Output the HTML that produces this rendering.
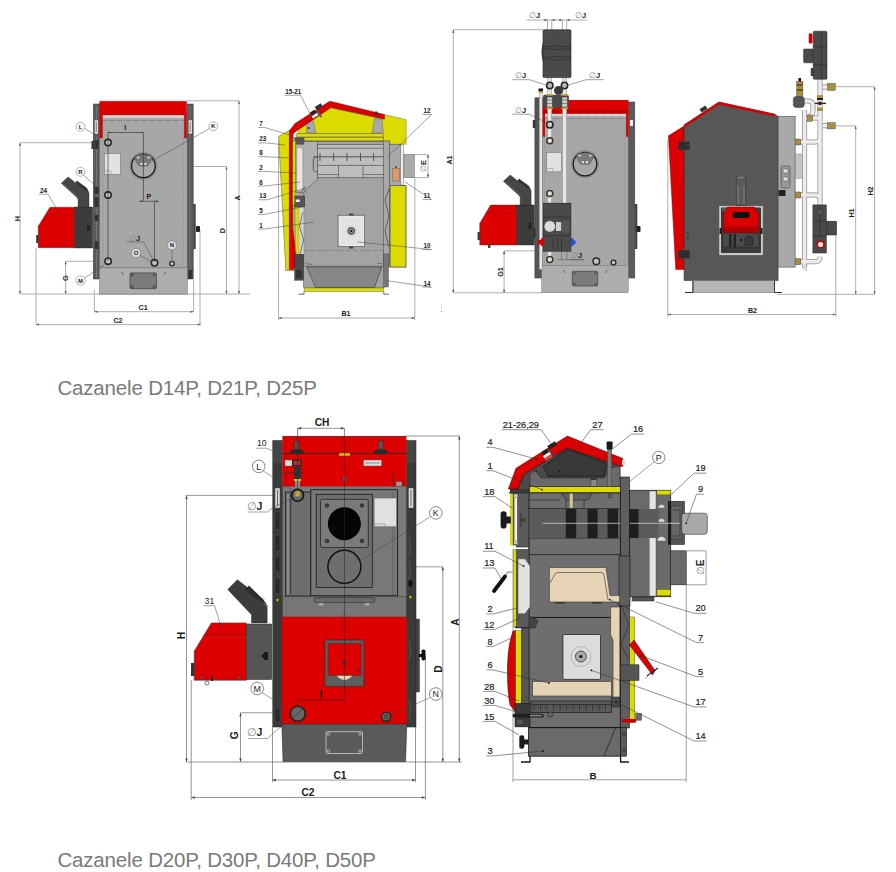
<!DOCTYPE html>
<html><head><meta charset="utf-8">
<style>
html,body{margin:0;padding:0;background:#fff;width:896px;height:872px;overflow:hidden}
svg{position:absolute;left:0;top:0;display:block}
text{font-family:"Liberation Sans",sans-serif}
.cap{font-size:20.5px;fill:#7a7a7a;letter-spacing:-0.17px}
.lb{font-size:8px;fill:#333;font-weight:bold}
.lb2{font-size:11px;fill:#333}
.dim{stroke:#999;stroke-width:0.8;fill:none}
.ld{stroke:#2a2a2a;stroke-width:0.6;fill:none}
.ol{stroke:#222;stroke-width:0.8}
.red{fill:#dc0000}
.dk{fill:#3c3c3c}
.mg{fill:#6e6e6e}
.lg{fill:#b4b4b4}
.yl{fill:#dcdc02}
.tan{fill:#e6d2b4}
</style></head>
<body>
<svg width="896" height="872" viewBox="0 0 896 872">
<!-- ================= DRAWING 1 (top-left front) ================= -->
<g id="d1">
  <!-- dimension lines -->
  <path class="dim" d="M20 142.7H93 M20 142.7V294 M20 294H250 M65.6 261.3H95 M65.6 261.3V294 M36 248V325 M200 230V325 M94.4 290V312 M193.6 280V312 M94.4 311.7H193.6 M36 324.6H200.8 M187 100.8H239 M239 100.8V294 M143 166.5H226.5 M226.5 166.5V294"/>
  <path fill="#555" d="M20 142.7l-1 3h2z M20 294l-1 -3h2z M65.6 261.3l-1 3h2z M65.6 294l-1 -3h2z M94.4 311.7l3 -1v2z M193.6 311.7l-3 -1v2z M36 324.6l3 -1v2z M200.8 324.6l-3 -1v2z M239 100.8l-1 3h2z M239 294l-1 -3h2z M226.5 166.5l-1 3h2z M226.5 294l-1 -3h2z"/>
  <!-- side dark panels -->
  <rect fill="#5a5a5a" stroke="#333" stroke-width="0.5" x="93.3" y="104" width="6.5" height="175"/>
  <rect fill="#5a5a5a" stroke="#333" stroke-width="0.5" x="187.2" y="104" width="6" height="175"/>
  <path fill="none" stroke="#888" stroke-width="0.6" d="M96.5 106V278 M190 106V278"/>
  <rect fill="#333" x="94.5" y="140" width="4" height="9"/>
  <rect fill="#333" x="91.5" y="141" width="2.5" height="8"/>
  <rect fill="#333" x="94.5" y="187" width="4" height="7"/>
  <rect fill="#333" x="94.5" y="197" width="4" height="10"/>
  <rect fill="#333" x="94.5" y="215" width="4" height="6"/>
  <rect fill="#333" x="94.5" y="241" width="4" height="8"/>
  <rect fill="#ddd" stroke="#333" stroke-width="0.4" x="94.3" y="120" width="4" height="14"/><path fill="none" stroke="#555" stroke-width="0.7" d="M96.3 122V132"/>
  <rect fill="#ddd" stroke="#333" stroke-width="0.4" x="188.2" y="120" width="4" height="14"/><path fill="none" stroke="#555" stroke-width="0.7" d="M190.2 122V132"/>
  <rect fill="#444" x="193.2" y="204" width="2.5" height="45"/>
  <rect fill="#222" x="196" y="226" width="4" height="6" rx="1"/>
  <rect fill="#333" x="188.3" y="270" width="4" height="9"/>
  <!-- body -->
  <rect fill="#a7a7a7" stroke="#555" stroke-width="0.4" x="99.6" y="114" width="87.6" height="154"/>
  <rect fill="#d2d2d2" x="102.5" y="115" width="81.8" height="3"/>
  <path fill="none" stroke="#777" stroke-width="0.8" stroke-dasharray="4 1.5 1 1.5" d="M102.5 120.5H184.3"/>
  <path fill="none" stroke="#888" stroke-width="0.5" stroke-dasharray="2 1" d="M103 138V267 M183.5 138V267"/>
  <!-- base -->
  <rect fill="#adadad" stroke="#666" stroke-width="0.4" x="99.4" y="267.4" width="88.1" height="26.8"/>
  <path fill="none" stroke="#777" stroke-width="0.5" stroke-dasharray="1.5 1" d="M99.4 268H187.5 M99.4 293.5H187.5"/>
  <rect fill="#7c7c7c" stroke="#333" stroke-width="0.6" x="130" y="272.9" width="26.5" height="15.8" rx="1"/>
  <g fill="#888" stroke="#2a2a2a" stroke-width="0.7"><circle cx="132.2" cy="274.8" r="1.2"/><circle cx="154.3" cy="274.8" r="1.2"/><circle cx="132.2" cy="286.8" r="1.2"/><circle cx="154.3" cy="286.8" r="1.2"/></g>
  <path fill="none" stroke="#444" stroke-width="0.7" d="M121.5 272L123.5 275 M163.5 275L165.5 272"/>
  <!-- red top -->
  <path class="red" stroke="#900" stroke-width="0.3" d="M99.6 101.2H186.7V138H184.3V114.9H102.5V138H99.6Z"/>
  <path fill="none" stroke="#a00" stroke-width="0.6" stroke-dasharray="2 3" d="M101 113H185"/>
  <!-- K -->
  <circle cx="143.4" cy="165.9" r="13.3" fill="none" stroke="#8a8a8a" stroke-width="1.2"/>
  <circle cx="143.4" cy="165.9" r="11.8" fill="none" stroke="#1a1a1a" stroke-width="1.3"/>
  <path fill="#7a7a7a" stroke="#444" stroke-width="0.4" d="M134.5 156.5Q143.4 152 152.3 156.5Q151 163 147.5 166H139.3Q135.8 163 134.5 156.5Z"/>
  <g fill="#eee"><ellipse cx="138.2" cy="157.5" rx="1.4" ry="0.8"/><ellipse cx="148.6" cy="157.5" rx="1.4" ry="0.8"/><ellipse cx="141.3" cy="164" rx="1.2" ry="1.1"/><ellipse cx="145.5" cy="164" rx="1.2" ry="1.1"/></g>
  <path fill="none" stroke="#444" stroke-width="0.4" d="M140 156Q143.4 161 146.8 156"/>
  <rect fill="#e2e2e2" stroke="#666" stroke-width="0.5" x="104.4" y="153.4" width="16" height="21"/>
  <path fill="none" stroke="#777" stroke-width="0.4" d="M104.4 171H111V174.4"/>
  <circle cx="108" cy="142.6" r="3.2" fill="#c4c4c4" stroke="#2a2a2a" stroke-width="1.6"/>
  <circle cx="108" cy="195.1" r="3.2" fill="#c4c4c4" stroke="#2a2a2a" stroke-width="1.6"/>
  <circle cx="108.1" cy="261.2" r="3.2" fill="#c4c4c4" stroke="#2a2a2a" stroke-width="1.6"/>
  <circle cx="154.5" cy="262.8" r="3.2" fill="#c4c4c4" stroke="#2a2a2a" stroke-width="1.6"/>
  <circle cx="172" cy="263.6" r="2.3" fill="#c4c4c4" stroke="#2a2a2a" stroke-width="1.3"/>
  <path class="ld" d="M108 132.5H143.4 M108 132.5V261 M143.4 132.5V201.3 M139.3 201.3H158.6 M154.5 201.3V262"/>
  <path fill="#333" d="M108 132.5l2.5 -0.8v1.6z M143.4 132.5l-2.5 -0.8v1.6z M139.3 201.3l2.5 -0.8v1.6z M158.6 201.3l-2.5 -0.8v1.6z"/>
  <!-- burner -->
  <path class="red" stroke="#333" stroke-width="0.4" d="M49.9 207.3H74.7V247.7H38.2V226.3Z"/>
  <path fill="none" stroke="#800" stroke-width="0.5" stroke-dasharray="2 1" d="M46 215.5H74.7"/>
  <rect fill="#3c3c3c" stroke="#222" stroke-width="0.4" x="74.7" y="207" width="18" height="41"/>
  <rect fill="#222" x="87" y="225" width="3" height="6"/>
  <rect fill="#333" x="36.2" y="235" width="2.2" height="8"/>
  <path fill="#464646" stroke="#222" stroke-width="0.4" d="M61.3 183.3L68.1 176.9L75.7 182.9L76.9 180.9L86.6 188.1L89 192.9V207.4H78.1V200Q78 198 76 196.5Z"/>
  <path fill="none" stroke="#777" stroke-width="0.5" d="M63 183.5L76 195Q78.5 197.5 78.5 200"/>
  <path fill="#333" d="M76.9 180.9L86.6 188.1L89 192.9Q87 190.5 83 189L75.7 182.9Z"/>
  <!-- labels -->
  <text class="cap" x="57.4" y="395.1">Cazanele D14P, D21P, D25P</text>
</g>

<!-- ================= DRAWING 2 (top cross-section) ================= -->
<g id="d2">
  <path class="dim" d="M278.6 140V320 M414.8 178V320 M278.6 318H414.8 M414 154.6H428 M414 177.6H428 M428 154.6V177.6"/>
  <path fill="#444" d="M278.6 318l3 -1v2z M414.8 318l-3 -1v2z M428 154.6l-1 3h2z M428 177.6l-1 -3h2z"/>
  <!-- yellow left insulation -->
  <path class="yl" stroke="#555" stroke-width="0.5" d="M278.6 136.3L293.5 128.3L294 270.5H285.8Z"/>
  <!-- body gray backdrop -->
  <rect fill="#a9a9a9" x="294" y="137" width="96" height="130"/>
  <!-- yellow under roof -->
  <path class="yl" stroke="#555" stroke-width="0.4" d="M298.7 129.4L329.6 107.6L384.4 119.1V114.5L406.2 119.7V144.3H389.6V141H298Z"/>
  <path fill="#a8a8a8" stroke="#555" stroke-width="0.4" d="M306.6 122L313 119L316 133H306.6Z M374.7 118L382 119.5L383.3 133H372Z"/>
  <circle cx="308.6" cy="128" r="0.9" fill="#222"/>
  <rect class="yl" stroke="#555" stroke-width="0.6" x="296.1" y="133.5" width="87.2" height="3.7" rx="1.5"/>
  <rect class="yl" stroke="#555" stroke-width="0.6" x="304.1" y="137.2" width="79.2" height="3.7"/>
  <!-- red left wall + roof -->
  <path class="red" stroke="#400" stroke-width="0.4" d="M289.3 269.4V131L294.7 123.7L329.6 101.3L333.1 101.9L384.4 114.5V119.1L331 107.6L298.7 129.4L292.6 134V228L295.3 250V266L293.5 269.4Z"/>
  <g transform="rotate(-33 318 112)"><rect fill="#222" x="311" y="108" width="5" height="4"/><rect fill="#eee" stroke="#333" stroke-width="0.3" x="310" y="112" width="7" height="3"/><rect fill="#333" x="318" y="106" width="7" height="4"/><rect fill="#555" x="317" y="110" width="2" height="8"/></g>
  <rect fill="#333" x="375" y="111.5" width="2.5" height="3"/>
  <!-- yellow right insulation -->
  <rect class="yl" stroke="#444" stroke-width="0.8" x="390" y="185.6" width="16" height="81.5"/>
  <!-- body -->
  <rect fill="#a3a3a3" stroke="#555" stroke-width="0.6" x="303.8" y="141.5" width="85.6" height="124.8"/>
  <path fill="#b0b0b0" stroke="#555" stroke-width="0.6" d="M295.5 141.5H317.6V179L303.5 192.4H295.5Z"/>
  <path fill="#e6e6e6" stroke="#666" stroke-width="0.4" d="M296.8 147.6H301L302.9 150V189L300 191.2H296.8Z"/>
  <rect fill="#555" x="294.9" y="137.2" width="9.2" height="7.4"/>
  <path fill="none" stroke="#555" stroke-width="0.6" d="M300 194L306 186 M303 189L307 193"/>
  <!-- flue tube box -->
  <rect fill="#bdbdbd" stroke="#555" stroke-width="0.7" x="317.6" y="144.6" width="71.8" height="33.1"/>
  <path fill="none" stroke="#555" stroke-width="0.7" d="M317.6 148.2H389.4 M317.6 165.4H389.4 M338.5 165.4V177.7 M363 165.4V177.7 M317.6 174.5H338.5 M363 174.5H389.4"/>
  <path fill="none" stroke="#555" stroke-width="1" d="M313.3 156.8H388.2 M320 153V161 M333.6 153V161 M347 153V161 M360.5 153V161 M373.5 153V161 M386.5 153V161 M317.6 156.8Q313.3 156.8 313.3 160V169Q313.3 172 317.6 172"/>
  <rect fill="#a8a8a8" stroke="#555" stroke-width="0.6" x="383.3" y="141" width="6.1" height="125"/>
  <path fill="none" stroke="#333" stroke-width="0.6" d="M389 189L385 200L389 216L385 231L389 247"/>
  <rect fill="#a8a8a8" stroke="#555" stroke-width="0.6" x="389.4" y="144.3" width="11.1" height="41.3"/>
  <rect fill="#eee" stroke="#555" stroke-width="0.4" x="400.5" y="145" width="3" height="40"/>
  <rect fill="#aaa" stroke="#555" stroke-width="0.5" x="403.9" y="154.6" width="10.3" height="23"/>
  <rect fill="#d99a6c" stroke="#555" stroke-width="0.4" x="392.4" y="168.4" width="6.9" height="12.6"/>
  <circle cx="395.8" cy="167" r="1" fill="#444"/>
  <!-- inner yellow strip -->
  <rect class="yl" stroke="#444" stroke-width="0.3" x="292.8" y="141" width="2.8" height="64"/>
  <path class="yl" stroke="#444" stroke-width="0.3" d="M295 207H299.1V255.7H297L295.5 250Z"/>
  <rect fill="#d6d6d6" x="299.1" y="207" width="4.6" height="47"/>
  <rect fill="#555" stroke="#222" stroke-width="0.4" x="294.8" y="196" width="10" height="11"/>
  <rect fill="#eee" x="295.8" y="199.5" width="4" height="2.5"/>
  <path fill="none" stroke="#333" stroke-width="0.6" d="M303 212L299.5 226L303.5 240L300 254"/>
  <!-- ash pan -->
  <rect fill="#a2a2a2" stroke="#555" stroke-width="0.5" x="303.4" y="266.1" width="81.1" height="21.4"/>
  <path fill="#878787" stroke="#333" stroke-width="0.6" d="M306.8 266.9H381.8L374.4 287.5H315.5Z"/>
  <path fill="none" stroke="#555" stroke-width="0.6" d="M305 263.5L312 264.5 M377 263.5L382 263.5"/>
  <rect class="yl" stroke="#555" stroke-width="0.4" x="304.1" y="288" width="79.7" height="3.5"/>
  <path fill="none" stroke="#444" stroke-width="0.8" d="M298.7 294.2H304V291.5 M383.8 291.5V294.2H389"/>
  <rect fill="#4a4a4a" stroke="#222" stroke-width="0.4" x="294.6" y="254.3" width="8.8" height="25.9"/>
  <rect fill="#333" x="296" y="270" width="6" height="8"/>
  <rect fill="#777" stroke="#333" stroke-width="0.4" x="383.8" y="254" width="4.6" height="33"/>
  <!-- burner plate -->
  <rect fill="#e3e3e3" stroke="#444" stroke-width="0.6" x="338.1" y="215.2" width="26.5" height="31.5"/>
  <rect fill="none" stroke="#fff" stroke-width="0.7" stroke-dasharray="2 2" x="339.5" y="216.6" width="23.7" height="28.7"/>
  <rect fill="#444" x="349" y="213.5" width="4.5" height="2"/>
  <rect fill="#444" x="349" y="246.5" width="4.5" height="2"/>
  <circle cx="351.3" cy="230.9" r="5.5" fill="none" stroke="#aaa" stroke-width="0.5" stroke-dasharray="1 1"/>
  <circle cx="351.3" cy="230.9" r="3.5" fill="#888" stroke="#333" stroke-width="0.8"/>
  <circle cx="351.3" cy="230.9" r="1" fill="#111"/>
  <path fill="none" stroke="#666" stroke-width="0.6" stroke-dasharray="3 1.5 1 1.5" d="M304 250.5H385"/>
</g>
<!-- ================= DRAWING 3 (top front w/ hydraulics) ================= -->
<g id="d3">
  <path class="dim" d="M453.3 29.7H543 M453.3 29.7V292.8 M453.3 292.8H542 M504.1 250.9H535 M504.1 250.9V292.8 M526.5 20H586.7 M547.5 20V29.7 M551.8 20V29.7 M562.4 20V29.7 M566.7 20V29.7"/>
  <path fill="#444" d="M453.3 29.7l-1 3h2z M453.3 292.8l-1 -3h2z M504.1 250.9l-1 3h2z M504.1 292.8l-1 -3h2z M547.5 20l-3 -1v2z M566.7 20l3 -1v2z M551.8 20l3 -1v2z M562.4 20l-3 -1v2z"/>
  <!-- side columns -->
  <rect fill="#555" stroke="#333" stroke-width="0.5" x="534.9" y="97.8" width="7.7" height="180.2"/>
  <rect fill="#5a5a5a" stroke="#333" stroke-width="0.5" x="628.4" y="102" width="6.4" height="176"/>
  <rect fill="#333" x="532.8" y="120" width="2.4" height="8"/>
  <rect fill="#333" x="532.8" y="228" width="2.4" height="10"/>
  <rect fill="#444" x="634.8" y="204" width="2.5" height="45"/>
  <rect fill="#222" x="636.5" y="226" width="4" height="6" rx="1"/>
  <rect fill="#eee" x="630" y="120" width="3" height="6"/>
  <!-- body -->
  <rect fill="#a7a7a7" stroke="#555" stroke-width="0.4" x="542.1" y="112.4" width="85.3" height="153.1"/>
  <rect fill="#d2d2d2" x="543" y="113.3" width="84" height="3"/>
  <path fill="none" stroke="#777" stroke-width="0.8" stroke-dasharray="4 1.5 1 1.5" d="M545 118.4H626"/>
  <path fill="none" stroke="#888" stroke-width="0.5" stroke-dasharray="2 1" d="M544.5 125V265 M625 125V265 M543 265.5H627"/>
  <rect fill="#adadad" stroke="#666" stroke-width="0.4" x="541.7" y="265.5" width="86.6" height="27.3"/>
  <rect fill="#7c7c7c" stroke="#333" stroke-width="0.6" x="572.3" y="271.3" width="25.4" height="14.7" rx="1"/>
  <g fill="none" stroke="#333" stroke-width="0.5"><circle cx="574.5" cy="273.3" r="1"/><circle cx="595.5" cy="273.3" r="1"/><circle cx="574.5" cy="284" r="1"/><circle cx="595.5" cy="284" r="1"/></g>
  <path fill="none" stroke="#444" stroke-width="0.7" d="M563.5 270L565.5 273 M605 273L607 270"/>
  <!-- red top -->
  <path class="red" d="M542.6 99.9H628.5V136.8H626.1V113.6H545V136.8H542.6Z"/>
  <rect fill="#c00000" x="542.6" y="110" width="85.9" height="3.6"/>
  <path fill="none" stroke="#a00" stroke-width="0.6" stroke-dasharray="2 3" d="M544 111.5H627"/>
  <!-- K -->
  <circle cx="585" cy="164.1" r="13.3" fill="none" stroke="#8a8a8a" stroke-width="1.2"/>
  <circle cx="585" cy="164.1" r="11.8" fill="none" stroke="#1a1a1a" stroke-width="1.3"/>
  <path fill="#7a7a7a" stroke="#444" stroke-width="0.4" d="M576.1 154.7Q585 150.2 593.9 154.7Q592.6 161.2 589.1 164.2H580.9Q577.4 161.2 576.1 154.7Z"/>
  <g fill="#eee"><ellipse cx="579.8" cy="155.7" rx="1.4" ry="0.8"/><ellipse cx="590.2" cy="155.7" rx="1.4" ry="0.8"/><ellipse cx="582.9" cy="162.2" rx="1.2" ry="1.1"/><ellipse cx="587.1" cy="162.2" rx="1.2" ry="1.1"/></g>
  <rect fill="#e2e2e2" stroke="#666" stroke-width="0.5" x="546.6" y="152.4" width="15" height="19.5"/>
  <path fill="none" stroke="#777" stroke-width="0.4" d="M546.6 168.5H553V171.9"/>
  <circle cx="596.3" cy="261.3" r="3.3" fill="#c4c4c4" stroke="#2a2a2a" stroke-width="1.5"/>
  <circle cx="613.5" cy="262.5" r="2.4" fill="#c4c4c4" stroke="#2a2a2a" stroke-width="1.3"/>
  <!-- pipes -->
  <rect fill="#e6e6e6" stroke="#777" stroke-width="0.4" x="539.2" y="90.9" width="3" height="178.5"/>
  <rect fill="#111" x="538.5" y="88.5" width="4.5" height="3"/>
  <rect fill="#c9a227" x="538.5" y="91.5" width="4.5" height="1.5"/>
  <rect fill="#e6e6e6" stroke="#777" stroke-width="0.4" x="547.5" y="77.6" width="4.3" height="63"/>
  <rect fill="#e6e6e6" stroke="#777" stroke-width="0.4" x="547.5" y="193" width="4.3" height="10"/>
  <rect fill="#e6e6e6" stroke="#777" stroke-width="0.4" x="547.5" y="251" width="4.3" height="8"/>
  <rect fill="#e6e6e6" stroke="#777" stroke-width="0.4" x="562.4" y="77.6" width="4.3" height="125.6"/>
  <circle cx="549.8" cy="85.5" r="3.2" fill="#bbb" stroke="#222" stroke-width="1.5"/>
  <circle cx="564.5" cy="85.5" r="3.2" fill="#bbb" stroke="#222" stroke-width="1.5"/>
  <circle cx="558.5" cy="90.5" r="4.5" fill="#3a3a3a"/>
  <rect fill="#4a4a4a" x="543" y="94.8" width="25.9" height="12.9" rx="2"/>
  <rect fill="#ccc" stroke="#333" stroke-width="0.4" x="547" y="97" width="5.3" height="10"/>
  <rect fill="#ccc" stroke="#333" stroke-width="0.4" x="562" y="97" width="5.3" height="10"/>
  <path fill="none" stroke="#555" stroke-width="0.6" d="M547 100H552.3 M547 103.5H552.3 M562 100H567.3 M562 103.5H567.3"/>
  <path fill="none" stroke="#c9a227" stroke-width="1.4" d="M546.5 95H553 M561.5 95H568 M546.5 108.2H553 M561.5 108.2H568"/>
  <circle cx="549.8" cy="124.7" r="3.2" fill="#ccc" stroke="#222" stroke-width="1.5"/>
  <circle cx="549.8" cy="140.8" r="3" fill="#ddd" stroke="#3a3a20" stroke-width="1.5"/>
  <circle cx="549.8" cy="193.4" r="3" fill="#ddd" stroke="#3a3a20" stroke-width="1.5"/>
  <circle cx="549.8" cy="259.5" r="3" fill="#ddd" stroke="#3a3a20" stroke-width="1.5"/>
  <!-- top mixer box -->
  <path fill="#3e3e3e" d="M543 42Q540 52 543 62Z"/>
  <rect fill="#4a4a4a" stroke="#222" stroke-width="0.6" x="543" y="29.7" width="28" height="47.9" rx="1.2"/>
  <path fill="none" stroke="#2e2e2e" stroke-width="0.7" d="M543 47Q557 45 571 47 M543 59Q557 61 571 59 M543 48.5Q557 50.5 571 48.5 M543 57.5Q557 55.5 571 57.5"/>
  <path fill="none" stroke="#666" stroke-width="0.5" d="M548 30V36 M566 30V36"/>
  <!-- pump box -->
  <rect fill="#4a4a4a" stroke="#222" stroke-width="0.6" x="543.4" y="203.2" width="27.5" height="48"/>
  <path fill="none" stroke="#2a2a2a" stroke-width="0.7" d="M543.4 217.1H570.9 M543.4 235.7H570.9 M553 238V250 M557.5 238V250 M561.5 238V250"/>
  <circle cx="549.8" cy="226.4" r="5.8" fill="#dadada" stroke="#333" stroke-width="0.6"/>
  <rect fill="#d0d0d0" x="556" y="222" width="5.6" height="9"/>
  <rect fill="#555" stroke="#333" stroke-width="0.4" x="561.6" y="220" width="8.4" height="13"/>
  <path fill="#d00" d="M537.9 240H541V238.3H543.6V246H541V244.5H537.9Z"/>
  <path fill="#2255cc" d="M570.9 238.3H573.5V240.5H575.6V244H573.5V246H570.9Z"/>
  <path fill="none" stroke="#555" stroke-width="0.5" d="M561.5 251V259.7 M567 251V259.7 M557 259.7H583.8"/>
  <!-- burner -->
  <path class="red" stroke="#333" stroke-width="0.4" d="M490.5 205H516.8V245H479.7V223.6Z"/>
  <path fill="none" stroke="#800" stroke-width="0.5" stroke-dasharray="2 1" d="M486 213.5H516.8"/>
  <rect fill="#3c3c3c" stroke="#222" stroke-width="0.4" x="516.8" y="205" width="17.5" height="40"/>
  <rect fill="#222" x="528.5" y="223" width="3" height="6"/>
  <rect fill="#333" x="477.6" y="232" width="2.2" height="8"/>
  <rect fill="#444" x="488" y="245" width="2.5" height="3"/>
  <path fill="#464646" stroke="#222" stroke-width="0.4" d="M503.4 181.3L510.2 174.9L517.8 180.9L519 178.9L528.7 186.1L531.1 190.9V205H520.2V198Q520.1 196 518.1 194.5Z"/>
  <path fill="none" stroke="#777" stroke-width="0.5" d="M505.1 181.5L518.1 193Q520.6 195.5 520.6 198"/>
  <path fill="#333" d="M519 178.9L528.7 186.1L531.1 190.9Q529.1 188.5 525.1 187L517.8 180.9Z"/>
</g>
<!-- ================= DRAWING 4 (top side view) ================= -->
<g id="d4">
  <path class="dim" d="M667.8 140V317 M835.8 235V317 M667.8 314.5H835.8 M835.2 125.9H855.7 M855.7 125.9V294.3 M831 86.7H874.6 M874.6 86.7V294.3 M777 294.3H874.6"/>
  <path fill="#555" d="M667.8 314.5l3 -1v2z M835.8 314.5l-3 -1v2z M855.7 125.9l-1 3h2z M855.7 294.3l-1 -3h2z M874.6 86.7l-1 3h2z M874.6 294.3l-1 -3h2z"/>
  <!-- red front -->
  <path class="red" stroke="#600" stroke-width="0.4" d="M668.4 135.8L684.1 126.1V269.5H675.7Z"/>
  <!-- dark body -->
  <path fill="#575757" stroke="#2a2a2a" stroke-width="0.6" d="M684.1 124.9L719 102L774.5 114.1L778.1 116.5V280.4H684.1Z"/>
  <path fill="none" stroke="#dc0000" stroke-width="2.4" d="M684.5 126L719 103.3L775 115.3"/>
  <rect fill="#2e2e2e" stroke="#555" stroke-width="0.4" x="678.2" y="141.5" width="11.6" height="8.6" rx="0.8"/>
  <rect fill="#2e2e2e" stroke="#555" stroke-width="0.4" x="678.2" y="250" width="11.6" height="8.6" rx="0.8"/>
  <!-- back panel -->
  <rect fill="#a9a9a9" stroke="#444" stroke-width="0.6" x="778.1" y="116.5" width="17" height="150.6"/>
  <rect fill="#999" stroke="#333" stroke-width="0.5" x="781" y="166" width="9" height="22" rx="1.5"/>
  <!-- base -->
  <rect fill="#b6b6b6" stroke="#555" stroke-width="0.5" x="692.5" y="280.4" width="82" height="12"/>
  <path fill="none" stroke="#333" stroke-width="1" d="M685 292.5H693V281 M782 292.5H774.5V281"/>
  <rect fill="#333" x="700" y="107" width="7" height="4" transform="rotate(-33 703.5 109)"/>
  <circle cx="688" cy="233" r="0.9" fill="#333"/><circle cx="688" cy="238" r="0.9" fill="#333"/>
  <rect fill="#222" x="778.5" y="190" width="7" height="6"/>
  <rect fill="#ddd" stroke="#333" stroke-width="0.4" x="783" y="169" width="5" height="4" rx="0.8"/>
  <rect fill="#ddd" stroke="#333" stroke-width="0.4" x="783" y="177" width="5" height="4" rx="0.8"/>
  <path fill="none" stroke="#5f5f5f" stroke-width="0.35" d="M684.5 135H778 M684.5 145H778 M684.5 155H778 M684.5 165H778 M684.5 175H778 M684.5 185H778 M684.5 195H778 M684.5 205H718 M763 205H778 M684.5 215H718 M763 215H778 M684.5 225H718 M763 225H778 M684.5 235H718 M763 235H778 M684.5 245H718 M763 245H778 M684.5 265H778 M684.5 275H778"/>
  <!-- burner -->
  <rect fill="#c8c8c8" stroke="#333" stroke-width="0.5" x="718.8" y="205.6" width="44.5" height="50" rx="1"/>
  <rect fill="#3a3a3a" x="721" y="207.5" width="40" height="45.5" rx="1"/>
  <rect fill="#5a5a5a" stroke="#333" stroke-width="0.5" x="736.2" y="176.7" width="9.7" height="29"/>
  <ellipse cx="741" cy="177.5" rx="4.8" ry="1.6" fill="#777" stroke="#333" stroke-width="0.4"/>
  <path fill="none" stroke="#999" stroke-width="0.7" d="M738 186V204 M744 186V204"/>
  <path class="red" stroke="#600" stroke-width="0.4" d="M727.5 207H754.1L758.7 213.9V232.7H723.4V213.9Z"/>
  <rect fill="#b00000" x="723.4" y="226.5" width="35.3" height="6.2"/>
  <rect fill="#111" x="732.6" y="212" width="16.9" height="6" rx="2"/>
  <path fill="#4a4a4a" stroke="#222" stroke-width="0.4" d="M723 233H759V247H723Z"/>
  <rect fill="#222" x="729" y="234" width="2.5" height="13"/>
  <rect fill="#222" x="733.5" y="234" width="2.5" height="13"/>
  <rect fill="#111" x="740" y="239" width="2" height="2"/>
  <path fill="#3a3a3a" stroke="#111" stroke-width="0.5" d="M749 235.5L753 238.5V245H745V238.5Z"/>
  <circle cx="724" cy="209.5" r="1.4" fill="none" stroke="#aaa" stroke-width="0.5"/>
  <rect fill="#1a1a1a" x="719.5" y="228" width="2" height="6"/>
  <rect fill="#1a1a1a" x="760.5" y="228" width="2" height="6"/>
  <!-- pipes -->
  <rect fill="#c4c4c4" stroke="#777" stroke-width="0.4" x="795.6" y="154" width="7" height="24.2"/>
  <g fill="none" stroke="#8a8a8a" stroke-width="5">
    <path d="M820 79V204.9 M804.6 110V268 M800.8 142H815Q820 142 820 137 M800.8 195H815Q820 195 820 200 M800.8 261.7H815Q820 261.7 820 256.7 M804 101H809Q813 101 813 106V111Q813 114 809 117L806 119 M812.5 118H820 M822.4 87H828 M822.4 125.8H828"/>
  </g>
  <g fill="none" stroke="#ececec" stroke-width="3.6">
    <path d="M820 79V204.9 M804.6 110V268 M800.8 142H815Q820 142 820 137 M800.8 195H815Q820 195 820 200 M800.8 261.7H815Q820 261.7 820 256.7 M804 101H809Q813 101 813 106V111Q813 114 809 117L806 119 M812.5 118H820 M822.4 87H828 M822.4 125.8H828"/>
  </g>
  <path fill="#ececec" stroke="#888" stroke-width="0.4" d="M802.8 268L806.4 264V271Z"/>
  <rect fill="#4a4a4a" stroke="#222" stroke-width="0.5" x="813.2" y="31.2" width="13.8" height="48.1" rx="1"/>
  <path fill="none" stroke="#2a2a2a" stroke-width="0.6" d="M813.2 47H827 M813.2 64.9H827 M821.5 31.2V79.3"/>
  <rect fill="#4a4a4a" stroke="#222" stroke-width="0.5" x="803.6" y="49" width="9.6" height="13.8" rx="1"/>
  <rect fill="#444" stroke="#222" stroke-width="0.4" x="811" y="68.3" width="2.5" height="7.6"/>
  <rect fill="#c00" x="808.7" y="33.3" width="3.8" height="10.3" rx="1.5"/>
  <rect fill="#a88f3c" stroke="#333" stroke-width="0.4" x="827.6" y="83.5" width="7.6" height="6.8"/>
  <rect fill="#a88f3c" stroke="#333" stroke-width="0.4" x="827.6" y="122.7" width="7.6" height="6.2"/>
  <rect fill="#a88f3c" x="817" y="95.2" width="6" height="2.7"/>
  <rect fill="#222" x="817" y="98" width="6" height="2"/>
  <path fill="none" stroke="#611" stroke-width="1.4" d="M815 103.4H826"/>
  <circle cx="820" cy="103.4" r="1.8" fill="#222"/>
  <rect fill="#a88f3c" x="817" y="107.5" width="6" height="3.5"/>
  <rect fill="#a88f3c" stroke="#333" stroke-width="0.4" x="796.7" y="81.4" width="6.2" height="15"/>
  <path fill="none" stroke="#222" stroke-width="1" d="M796.7 85H802.9 M796.7 90H802.9"/>
  <rect fill="#111" x="798.5" y="78" width="2.5" height="3.5"/>
  <rect fill="#555" stroke="#222" stroke-width="0.4" x="793.3" y="96.5" width="11" height="11" rx="3"/>
  <rect fill="#a88f3c" stroke="#333" stroke-width="0.4" x="807" y="115" width="5.5" height="6.3"/>
  <rect fill="#a88f3c" stroke="#333" stroke-width="0.4" x="795.6" y="139" width="5.2" height="6"/>
  <rect fill="#a88f3c" stroke="#333" stroke-width="0.4" x="795.6" y="192" width="5.2" height="6"/>
  <rect fill="#a88f3c" stroke="#333" stroke-width="0.4" x="795.6" y="258.7" width="5.2" height="6"/>
  <rect fill="#4a4a4a" stroke="#222" stroke-width="0.5" x="812.9" y="204.9" width="13.4" height="48.1"/>
  <path fill="none" stroke="#2a2a2a" stroke-width="0.6" d="M812.9 221H826.3 M812.9 236H826.3 M820 205V236"/>
  <circle cx="820" cy="212" r="3" fill="#555" stroke="#333" stroke-width="0.5"/>
  <rect fill="#4a4a4a" stroke="#222" stroke-width="0.5" x="826.3" y="221.2" width="10.3" height="13.8"/>
  <circle cx="820.6" cy="244.5" r="3.3" fill="#eee" stroke="#c00" stroke-width="1.5"/>
</g>

<!-- ================= DRAWING 5 (bottom-left front) ================= -->
<g id="d5">
  <path class="dim" stroke="#666" style="stroke:#7a7a7a" d="M186.5 495.4H290 M186.5 495.4V762 M186.5 762H462 M240.5 712.8H290 M240.5 712.8V762 M272.5 727V782 M415.5 727V782 M272.5 780H415.5 M191.2 680V800 M425.4 656V800 M191.2 797.5H425.4 M406 436H459.3 M459.3 436V762 M344.4 566.8H442.8 M442.8 566.8V762 M297.6 428.3H344.4"/>
  <path fill="#444" d="M186.5 495.4l-1.2 3.5h2.4z M186.5 762l-1.2 -3.5h2.4z M240.5 712.8l-1.2 3.5h2.4z M240.5 762l-1.2 -3.5h2.4z M272.5 780l3.5 -1.2v2.4z M415.5 780l-3.5 -1.2v2.4z M191.2 797.5l3.5 -1.2v2.4z M425.4 797.5l-3.5 -1.2v2.4z M459.3 436l-1.2 3.5h2.4z M459.3 762l-1.2 -3.5h2.4z M442.8 566.8l-1.2 3.5h2.4z M442.8 762l-1.2 -3.5h2.4z M297.6 428.3l3.5 -1.2v2.4z M344.4 428.3l-3.5 -1.2v2.4z M297.8 700l3.5 -1.2v2.4z M344.4 700l-3.5 -1.2v2.4z"/>
  <!-- side columns -->
  <rect fill="#3a3a3a" stroke="#222" stroke-width="0.5" x="272.8" y="440.5" width="9.6" height="286.5"/>
  <rect fill="#3a3a3a" stroke="#222" stroke-width="0.5" x="406.4" y="440.5" width="9.6" height="286.5"/>
  <rect fill="#444" x="273.2" y="441" width="8.8" height="22"/>
  <rect fill="#444" x="406.8" y="441" width="8.8" height="22"/>
  <rect fill="#d8d8d8" stroke="#555" stroke-width="0.5" x="275" y="488" width="5" height="20"/>
  <rect fill="#d8d8d8" stroke="#555" stroke-width="0.5" x="408.5" y="488" width="5" height="20"/>
  <path fill="none" stroke="#333" stroke-width="0.7" d="M277.5 490V506 M411 490V506"/>
  <rect fill="#2a2a2a" stroke="#555" stroke-width="0.5" x="275" y="512" width="5" height="18"/>
  <rect fill="#2a2a2a" stroke="#555" stroke-width="0.5" x="275" y="535" width="5" height="16"/>
  <rect fill="#2a2a2a" stroke="#555" stroke-width="0.5" x="275" y="556" width="5" height="16"/>
  <rect fill="#2a2a2a" stroke="#555" stroke-width="0.5" x="275" y="578" width="5" height="16"/>
  <rect fill="#2a2a2a" stroke="#555" stroke-width="0.5" x="275" y="708" width="5" height="14"/>
  <path fill="none" stroke="#666" stroke-width="0.6" d="M409 535Q412 545 409 556 M409 560Q412 570 409 580 M409 640Q412 650 409 660 M409 700Q412 710 409 720"/>
  <rect fill="#111" x="408.5" y="580" width="4" height="7" rx="2"/>
  <circle cx="410.5" cy="597" r="1.6" fill="#cc0" stroke="#222" stroke-width="0.5"/>
  <circle cx="277.5" cy="600" r="1.6" fill="#cc0" stroke="#222" stroke-width="0.5"/>
  <rect fill="#444" stroke="#222" stroke-width="0.4" x="416" y="619" width="3.5" height="73"/>
  <rect fill="#111" x="419" y="654" width="3" height="3"/>
  <rect fill="#111" x="421.5" y="649.5" width="4" height="11" rx="1.8"/>
  <!-- middle gray -->
  <rect fill="#7b7b7b" stroke="#333" stroke-width="0.5" x="282.4" y="486.4" width="124" height="130.6"/>
  <rect fill="#6e6e6e" stroke="#1a1a1a" stroke-width="0.8" x="285.4" y="492" width="25.6" height="104"/>
  <path fill="none" stroke="#8c8c8c" stroke-width="1.8" d="M288 494V594"/>
  <path fill="none" stroke="#2a2a2a" stroke-width="0.8" d="M290.7 494V594"/>
  <rect fill="#787878" stroke="#1a1a1a" stroke-width="0.9" x="310.8" y="489.7" width="86.8" height="106"/>
  <rect fill="#6e6e6e" stroke="#1a1a1a" stroke-width="0.8" x="316.2" y="494.3" width="56.1" height="93.2"/>
  <path fill="none" stroke="#555" stroke-width="0.6" d="M393 492V595"/>
  <rect fill="#7a7a7a" stroke="#222" stroke-width="0.8" x="320.5" y="499.3" width="47.8" height="48.2" rx="2"/>
  <circle cx="344.4" cy="523.7" r="16.5" fill="#050505"/>
  <g fill="#444" stroke="#111" stroke-width="0.6"><circle cx="327" cy="505.5" r="1.8"/><circle cx="362" cy="505.5" r="1.8"/><circle cx="327" cy="541" r="1.8"/><circle cx="362" cy="541" r="1.8"/></g>
  <circle cx="344.4" cy="566.8" r="16.5" fill="none" stroke="#111" stroke-width="1.5"/>
  <rect fill="#e0e0e0" stroke="#555" stroke-width="0.5" x="374.1" y="498" width="22.6" height="28.8"/>
  <path fill="none" stroke="#666" stroke-width="0.5" d="M374.1 524H385V526.8"/>
  <rect fill="#767676" stroke="#333" stroke-width="0.5" x="282.4" y="596.8" width="124" height="20.2"/>
  <path fill="none" stroke="#8a8a8a" stroke-width="0.5" d="M330 617A14.4 8 0 0 1 358.8 617"/>
  <rect fill="#6a6a6a" stroke="#222" stroke-width="0.5" x="314.4" y="597.6" width="60.3" height="5" rx="1.5"/>
  <g fill="none" stroke="#ddd" stroke-width="0.6"><circle cx="320" cy="604.3" r="1"/><circle cx="322.3" cy="604.3" r="1"/><circle cx="366" cy="604.3" r="1"/><circle cx="368.3" cy="604.3" r="1"/></g>
  <!-- red top -->
  <rect class="red" x="282.4" y="436.1" width="124" height="50.3"/>
  <path fill="none" stroke="#333" stroke-width="0.5" d="M282.4 436.4H406.4"/>
  <path fill="none" stroke="#222" stroke-width="0.9" d="M282.4 453.5H406.4"/>
  <rect fill="#cc0" x="339" y="453.2" width="11" height="2.5"/>
  <rect fill="#555" stroke="#222" stroke-width="0.4" x="294.5" y="441" width="4.5" height="9"/>
  <rect fill="#555" stroke="#222" stroke-width="0.4" x="378.5" y="441" width="4.5" height="9"/>
  <ellipse cx="296.8" cy="451.8" rx="7" ry="2.6" fill="#2a2a2a"/>
  <ellipse cx="380.8" cy="451.8" rx="7" ry="2.6" fill="#2a2a2a"/>
  <rect fill="#ddd" stroke="#555" stroke-width="0.4" x="363.5" y="460" width="18" height="6"/>
  <path fill="none" stroke="#555" stroke-width="0.6" d="M365 463H380"/>
  <rect fill="#ddd" stroke="#555" stroke-width="0.4" x="285" y="460" width="7" height="6"/>
  <rect fill="#2a2a2a" x="292" y="459.5" width="10" height="7"/>
  <rect fill="#cc2222" x="293.5" y="461" width="7" height="4"/>
  <rect fill="#333" x="294" y="467" width="7" height="12"/>
  <path fill="none" stroke="#333" stroke-width="0.8" d="M283 473H304"/>
  <rect fill="#cc0" x="294" y="479" width="7" height="2"/>
  <rect fill="#888" x="295" y="481" width="5" height="7"/>
  <rect fill="#555" x="343" y="476" width="3" height="6" rx="1.5"/>
  <rect fill="#999" stroke="#333" stroke-width="0.4" x="396" y="481.5" width="6" height="5"/>
  <path fill="none" stroke="#333" stroke-width="0.8" d="M393 473V487"/>
  <circle cx="297.6" cy="495.2" r="6" fill="#666" stroke="#111" stroke-width="1.5"/>
  <rect fill="#c9a227" x="295.2" y="491.5" width="4.8" height="5"/>
  <!-- red lower -->
  <rect class="red" x="281.8" y="617" width="125" height="107.1"/>
  <rect fill="#5e5e5e" stroke="#222" stroke-width="0.5" x="324.9" y="640" width="39" height="46.5" rx="1"/>
  <rect class="red" stroke="#333" stroke-width="0.4" x="328" y="643.4" width="33.4" height="32.1"/>
  <path fill="#e8d8b8" stroke="#333" stroke-width="0.4" d="M336 675.5Q344.4 685 353 675.5Z"/>
  <rect fill="#333" x="343" y="661" width="3" height="4"/>
  <circle cx="358" cy="670" r="1.2" fill="#333"/>
  <path class="ld" d="M344.4 428.3V700H297.8V708 M297.6 428.3V490"/>
  <circle cx="297.8" cy="713.8" r="7.5" fill="#666" stroke="#222" stroke-width="1.6"/>
  <path fill="none" stroke="#333" stroke-width="0.6" d="M293 718L302 709"/>
  <circle cx="386.1" cy="716.8" r="4.5" fill="#666" stroke="#222" stroke-width="1.4"/>
  <circle cx="386.1" cy="716.8" r="2" fill="#555" stroke="#222" stroke-width="0.5"/>
  <!-- base -->
  <path fill="#5a5a5a" stroke="#222" stroke-width="0.5" d="M281.8 724.1H406.8L405.6 761.5H283Z"/>
  <rect fill="#5a5a5a" stroke="#ddd" stroke-width="0.7" x="326" y="731.7" width="36.5" height="21.8" rx="1"/>
  <g fill="none" stroke="#ddd" stroke-width="0.6"><circle cx="328.5" cy="734" r="1.3"/><circle cx="360" cy="734" r="1.3"/><circle cx="328.5" cy="751" r="1.3"/><circle cx="360" cy="751" r="1.3"/></g>
  <!-- burner -->
  <path fill="#3c3c3c" stroke="#222" stroke-width="0.4" d="M227.7 589.4L237.4 579.7L262.7 599L267.2 605.8V622.9H251.5V614.7Z"/>
  <path fill="#2e2e2e" d="M245 590L249 585.5L262.7 599L267.2 605.8Q265 602 258 600Z"/>
  <path fill="none" stroke="#aaa" stroke-width="0.5" d="M262 596L266 600 M264 603L267 607"/>
  <path class="red" stroke="#333" stroke-width="0.5" d="M211.3 622.9H246.3V680.3H194.2V651.2Z"/>
  <path fill="none" stroke="#700" stroke-width="0.6" d="M205 634.5H246"/>
  <circle cx="285" cy="0" r="0"/>
  <rect fill="#555" stroke="#222" stroke-width="0.5" x="246.3" y="624" width="25.4" height="55.5"/>
  <path fill="#1a1a1a" d="M264 652H268V660H264Z M262 654H264V658H262Z"/>
  <rect fill="#333" x="191" y="663" width="3.5" height="13"/>
  <circle cx="201.5" cy="677.5" r="1.2" fill="#555"/>
  <circle cx="239" cy="677.5" r="1.2" fill="#555"/>
  <rect fill="#222" x="211" y="676" width="2" height="5"/>
  <circle cx="207" cy="683" r="2" fill="none" stroke="#444" stroke-width="0.7"/>
</g>
<!-- ================= DRAWING 6 (bottom cross-section) ================= -->
<g id="d6">
  <path class="dim" style="stroke:#888" d="M513 500V782 M686.2 585V782 M513 779.8H686.2 M686.2 550.8H706.1 M686.2 584.8H706.1 M706.1 550.8V584.8"/>
  <!-- flue box -->
  <rect fill="#6a6a6a" stroke="#222" stroke-width="0.8" x="629.4" y="490.3" width="41.3" height="106.4"/>
  <rect fill="#e4e4e4" stroke="#444" stroke-width="0.4" x="649.2" y="491" width="6.8" height="105"/>
  <rect class="yl" stroke="#333" stroke-width="0.4" x="656.9" y="490.3" width="13.8" height="4.6"/>
  <rect class="yl" stroke="#333" stroke-width="0.4" x="656.9" y="589.4" width="13.8" height="6.4"/>
  <rect fill="#6a6a6a" stroke="#222" stroke-width="0.6" x="670.7" y="550.8" width="15.5" height="34"/>
  <rect fill="#555" stroke="#222" stroke-width="0.6" x="668.8" y="501.3" width="15.6" height="43.1"/>
  <rect fill="#1a1a1a" x="668" y="501.3" width="3" height="43.1"/>
  <rect fill="#666" stroke="#222" stroke-width="0.4" x="671" y="506" width="11" height="33"/>
  <path fill="none" stroke="#222" stroke-width="0.6" d="M673 510H680V536H673"/>
  <path fill="#ddd" stroke="#444" stroke-width="0.4" d="M658 508A3.5 3.5 0 0 1 665 508Z M658 522A3.5 3.5 0 0 1 665 522Z M657 541A4.5 4.5 0 0 1 666 541Z"/>
  <path fill="none" stroke="#ccc" stroke-width="0.9" d="M660 523.3H680"/>
  <rect fill="#a9a9a9" stroke="#333" stroke-width="0.6" x="681.7" y="513.2" width="25.6" height="21.1" rx="3"/>
  <rect fill="#555" stroke="#222" stroke-width="0.5" x="632" y="597" width="22" height="4"/>
  <!-- main body -->
  <rect fill="#6e6e6e" stroke="#111" stroke-width="1" x="528.9" y="492.5" width="91.5" height="235"/>
  <path fill="none" stroke="#222" stroke-width="0.8" d="M528.9 508.6H629 M528.9 538.1H629 M528.9 554.6H620.4"/>
  <rect fill="#5b5b5b" x="529.5" y="509" width="129" height="29"/>
  <path fill="#5e5e5e" stroke="#222" stroke-width="0.6" d="M561 492.5L566 500H588L593 492.5Z"/>
  <path fill="none" stroke="#222" stroke-width="0.6" d="M566 500V508.6 M584 500V508.6 M529 500H560"/>
  <rect fill="#d8c890" stroke="#555" stroke-width="0.4" x="569.5" y="493" width="3.5" height="15"/>
  <circle cx="610" cy="496" r="2" fill="none" stroke="#222" stroke-width="0.7"/>

  <rect fill="#1e1e1e" x="565.8" y="509" width="10.4" height="29"/>
  <rect fill="#1e1e1e" x="587.5" y="509" width="10.1" height="29"/>
  <rect fill="#1e1e1e" x="607.5" y="509" width="10.5" height="29"/>
  <rect fill="#1e1e1e" x="628.4" y="509" width="10.1" height="29"/>
  <path fill="none" stroke="#ccc" stroke-width="0.8" d="M542.5 523.3H660"/>
  <!-- roof interior -->
  <path fill="#4a4a4a" stroke="#111" stroke-width="0.6" d="M509 493L518 489L524 474L567 448L620 466V493Z"/>
  <path fill="#6a6a6a" stroke="#222" stroke-width="0.5" d="M530 486.7V474L535 470L541 478L604 478L611 468L620 466V486.7Z"/>
  <path fill="#393939" stroke="#111" stroke-width="0.6" d="M543.3 466.5L567.4 448.9L606.7 463.3L604.3 476.2H548Z"/>
  <circle cx="536" cy="471" r="1" fill="#222"/>
  <rect fill="#888" stroke="#333" stroke-width="0.4" x="591" y="479" width="5.5" height="7.7"/>
  <rect fill="#333" x="591" y="478" width="5.5" height="2"/>
  <rect fill="#3a3a3a" x="510" y="489" width="19" height="5"/>
  <!-- red roof -->
  <path class="red" stroke="#300" stroke-width="0.5" d="M508.3 489L516 468.2L567.4 436L622.8 458.5V466.5L620 466L567 448L524 474L518 489Z"/>
  <g transform="rotate(-32 551 452)"><rect fill="#222" x="543" y="447" width="6" height="4"/><rect fill="#eee" x="542" y="451" width="8" height="3"/><rect fill="#d44" x="542" y="454" width="8" height="3"/><rect fill="#222" x="551" y="445" width="9" height="4"/><rect fill="#444" x="550" y="449" width="2" height="10"/></g>
  <rect fill="#777" stroke="#333" stroke-width="0.4" x="607.5" y="448" width="4.2" height="39"/>
  <rect fill="#1a1a1a" x="606.6" y="441.6" width="6" height="8" rx="1"/>
  <rect fill="#555" stroke="#222" stroke-width="0.4" x="622.8" y="481.4" width="6.2" height="6.3"/>
  <rect fill="#ddd" x="622" y="460" width="3.5" height="5"/>
  <!-- yellow bar -->
  <rect class="yl" stroke="#222" stroke-width="0.6" x="529.7" y="486.7" width="90.7" height="5.8"/>
  <!-- right column -->
  <rect fill="#5e5e5e" stroke="#111" stroke-width="0.6" x="620.4" y="477" width="9" height="251"/>
  <rect fill="#5e5e5e" stroke="#111" stroke-width="0.6" x="619" y="556" width="11" height="50"/>
  <!-- upper door -->
  <rect fill="#5a5a5a" stroke="#222" stroke-width="0.6" x="512.8" y="493" width="16" height="54"/>
  <rect class="yl" x="510" y="493.6" width="2.8" height="53"/>
  <rect fill="#eee" stroke="#444" stroke-width="0.4" x="514.1" y="494" width="3.2" height="50"/>
  <rect fill="#ccc" stroke="#333" stroke-width="0.3" x="513.8" y="494" width="4" height="3.5"/>
  <rect fill="#ccc" stroke="#333" stroke-width="0.3" x="513.8" y="541" width="4" height="3.5"/>
  <path fill="none" stroke="#222" stroke-width="0.7" d="M521 513V527 M518.5 520H526"/>
  <circle cx="523.5" cy="520" r="1.6" fill="none" stroke="#222" stroke-width="0.5"/>
  <rect fill="#1a1a1a" x="500.6" y="511.2" width="6" height="17.4" rx="2.8"/>
  <rect fill="#1a1a1a" x="506" y="516.5" width="4.8" height="7"/>
  <!-- refractory tan -->
  <path fill="none" stroke="#1a1a1a" stroke-width="1.3" d="M529 617.5H620.5"/><path fill="none" stroke="#8a8a8a" stroke-width="0.5" d="M530 616.2H620 M530 618.8H620"/>
  <path class="tan" stroke="#333" stroke-width="0.6" d="M549.4 567.5H606L610 595.6H619.6V602H549.4Z"/>
  <path fill="none" stroke="#333" stroke-width="0.6" d="M550 583L555 574Q556 572.5 559 572.5H601Q603.5 572.5 604 575L608 600"/>
  <path fill="#333" d="M555 602h10v1.5h-10z M592 602h10v1.5h-10z"/>
  <path fill="none" stroke="#222" stroke-width="0.6" d="M621 605L629 625L621 645L629 660"/>
  <path fill="#444" stroke="#111" stroke-width="0.4" d="M515 617H533L538 621L535 628H515Z"/>
  <rect fill="#ccc" x="518" y="619" width="3" height="3"/>
  <path fill="none" stroke="#222" stroke-width="0.6" d="M522 640L528 655L522 670L528 690"/>
  <path class="tan" stroke="#333" stroke-width="0.6" d="M610.6 607H619.8V700H613V640L610.6 635Z"/>
  <!-- burner box -->
  <rect fill="#dcdcdc" stroke="#222" stroke-width="0.8" x="562.9" y="634.5" width="37.6" height="44.9" rx="1"/>
  <circle cx="580.9" cy="656.5" r="10" fill="none" stroke="#999" stroke-width="0.6"/>
  <circle cx="580.9" cy="656.5" r="5.5" fill="#aaa" stroke="#333" stroke-width="0.8"/>
  <circle cx="580.9" cy="656.5" r="1.6" fill="#111"/>
  <rect class="tan" stroke="#333" stroke-width="0.6" x="532.6" y="681.3" width="78.9" height="14.7"/>
  <!-- grate -->
  <rect fill="#5a5a5a" stroke="#111" stroke-width="0.6" x="531" y="701" width="80.4" height="11.7"/>
  <path fill="none" stroke="#222" stroke-width="0.7" d="M531 704.5H611 M534 704.5V710.5 M540.5 704.5V710.5 M547 704.5V710.5 M553.5 704.5V710.5 M560 704.5V710.5 M566.5 704.5V710.5 M573 704.5V710.5 M579.5 704.5V710.5 M586 704.5V710.5 M592.5 704.5V710.5 M599 704.5V710.5 M605.5 704.5V710.5"/>
  <g fill="#666" stroke="#222" stroke-width="0.4"><circle cx="537" cy="706.5" r="1.4"/><circle cx="543.5" cy="706.5" r="1.4"/><circle cx="556.5" cy="706.5" r="1.4"/><circle cx="563" cy="706.5" r="1.4"/><circle cx="569.5" cy="706.5" r="1.4"/><circle cx="576" cy="706.5" r="1.4"/><circle cx="582.5" cy="706.5" r="1.4"/><circle cx="589" cy="706.5" r="1.4"/><circle cx="595.5" cy="706.5" r="1.4"/><circle cx="602" cy="706.5" r="1.4"/></g>
  <circle cx="550.2" cy="714.5" r="2.6" fill="#666" stroke="#222" stroke-width="0.6"/>
  <path fill="#4a4a4a" stroke="#111" stroke-width="0.5" d="M611.4 697H619.7V706.8H611.4Z"/>
  <!-- lower left door -->
  <rect fill="#fff" x="509" y="545.5" width="7" height="4.5"/>
  <rect fill="#5a5a5a" stroke="#222" stroke-width="0.6" x="516" y="549.6" width="13" height="78"/>
  <rect class="yl" stroke="#444" stroke-width="0.3" x="513.5" y="549.6" width="2.7" height="77"/>
  <path fill="#e2e2e2" stroke="#444" stroke-width="0.5" d="M518 558.8H525L530 566V607L525 613.8H518Z"/>
  <path class="red" stroke="#300" stroke-width="0.5" d="M513 631L515.6 630.8V712L510 705Q507 690 507.5 665Q508 645 513 631Z"/>
  <rect class="yl" stroke="#333" stroke-width="0.4" x="515.6" y="630.8" width="6" height="72.6"/>
  <rect fill="#555" stroke="#222" stroke-width="0.5" x="521.6" y="628" width="7.3" height="78"/>
  <path fill="none" stroke="#aaa" stroke-width="1.6" d="M504 577L508 572H513"/><path fill="none" stroke="#111" stroke-width="3.8" stroke-linecap="round" d="M494 591L505 576.5"/>
  <!-- right lower yellow -->
  <rect class="yl" stroke="#333" stroke-width="0.4" x="629.8" y="617" width="5" height="105.7"/>
  <rect fill="#555" stroke="#222" stroke-width="0.5" x="620.7" y="664.8" width="18.3" height="15.6"/>
  <path class="red" stroke="#300" stroke-width="0.5" d="M629.5 645L634 640L655 670.5L652.5 675Z"/>
  <path fill="none" stroke="#222" stroke-width="1.2" d="M647 676L658 668"/>
  <path fill="none" stroke="#999" stroke-width="0.8" d="M645 679L650 674"/>
  <rect fill="#6a6a6a" stroke="#222" stroke-width="0.4" x="635.7" y="713.5" width="5.8" height="6.7"/><rect fill="#c00" x="622" y="719" width="14" height="3.5"/>
  <!-- ash box -->
  <rect fill="#3a3a3a" stroke="#111" stroke-width="0.5" x="515" y="703.4" width="15" height="23.5"/>
  <rect fill="#555" x="517" y="720" width="6" height="4"/>
  <rect fill="#1e1e1e" x="512.6" y="713.8" width="31" height="3.8" rx="1.5"/>
  <rect fill="#888" x="530" y="714.8" width="12" height="1.6"/>
  <path fill="#6a6a6a" stroke="#111" stroke-width="0.8" d="M528.5 727.7H620.6V756.2H528.5Z"/>
  <rect fill="#5a5a5a" stroke="#111" stroke-width="0.6" x="620.6" y="727.7" width="6" height="28.5"/>
  <path fill="none" stroke="#222" stroke-width="0.8" d="M615.6 727.7L603.9 756"/>
  <path fill="none" stroke="#1a1a1a" stroke-width="1.3" d="M521 762H530V756 M629 762H620.6V756"/>
  <g fill="none" stroke="#222" stroke-width="0.6"><circle cx="624" cy="734" r="1.6"/><circle cx="624" cy="750.5" r="1.6"/></g>
  <rect fill="#1a1a1a" x="519.3" y="735.3" width="5" height="13.4" rx="2.2"/>
  <rect fill="#1a1a1a" x="523" y="739.5" width="5.5" height="5"/>
</g>
<circle cx="441.5" cy="307" r="0.6" fill="#888"/><circle cx="441.5" cy="311.5" r="0.6" fill="#888"/>
<!--LABELS-->
<circle cx="80.5" cy="126.7" r="4.4" fill="#fff" fill-opacity="0.6" stroke="#666" stroke-width="0.5"/>
<text x="80.5" y="128.86" font-size="6" font-weight="bold" fill="#1a1a1a" text-anchor="middle">L</text>
<path d="M84.5 128.5L97 136" fill="none" stroke="#444" stroke-width="0.5"/>
<circle cx="213.2" cy="126.2" r="4.4" fill="#fff" fill-opacity="0.6" stroke="#666" stroke-width="0.5"/>
<text x="213.2" y="128.36" font-size="6" font-weight="bold" fill="#1a1a1a" text-anchor="middle">K</text>
<path d="M209.5 128.5L152 161" fill="none" stroke="#444" stroke-width="0.5"/>
<circle cx="80.5" cy="171.8" r="4.4" fill="#fff" fill-opacity="0.6" stroke="#666" stroke-width="0.5"/>
<text x="80.5" y="173.96" font-size="6" font-weight="bold" fill="#1a1a1a" text-anchor="middle">R</text>
<path d="M83.5 175L100 190" fill="none" stroke="#444" stroke-width="0.5"/>
<text x="40" y="192.5" font-size="6.5" font-weight="bold" fill="#1a1a1a" text-anchor="start">24</text>
<path d="M39 194.125H48L58 211" fill="none" stroke="#444" stroke-width="0.5"/>
<text x="125.2" y="130" font-size="7.2" font-weight="bold" fill="#1a1a1a" text-anchor="middle">I</text>
<text x="149" y="199.3" font-size="7.2" font-weight="bold" fill="#1a1a1a" text-anchor="middle">P</text>
<text x="20" y="218.6" font-size="7.2" font-weight="bold" fill="#1a1a1a" text-anchor="middle" transform="rotate(-90 20 218.6)">H</text>
<text x="240" y="197.8" font-size="7.2" font-weight="bold" fill="#1a1a1a" text-anchor="middle" transform="rotate(-90 240 197.8)">A</text>
<text x="225" y="230.6" font-size="7.2" font-weight="bold" fill="#1a1a1a" text-anchor="middle" transform="rotate(-90 225 230.6)">D</text>
<text x="68" y="278.1" font-size="7.2" font-weight="bold" fill="#1a1a1a" text-anchor="middle" transform="rotate(-90 68 278.1)">G</text>
<text x="129" y="240.6" font-size="7.5" text-anchor="start"><tspan fill="#888">∅</tspan><tspan font-weight="bold" fill="#222">J</tspan></text>
<path d="M126.6 241.9H143.7L153.9 261" fill="none" stroke="#444" stroke-width="0.5"/>
<circle cx="136" cy="253.1" r="4.6" fill="#fff" fill-opacity="0.6" stroke="#666" stroke-width="0.5"/>
<text x="136" y="255.26" font-size="6" font-weight="bold" fill="#1a1a1a" text-anchor="middle">O</text>
<path d="M140 255.5L152 262" fill="none" stroke="#444" stroke-width="0.5"/>
<circle cx="171.9" cy="245.3" r="4.6" fill="#fff" fill-opacity="0.6" stroke="#666" stroke-width="0.5"/>
<text x="171.9" y="247.46" font-size="6" font-weight="bold" fill="#1a1a1a" text-anchor="middle">N</text>
<path d="M171.9 250V260" fill="none" stroke="#444" stroke-width="0.5"/>
<circle cx="80.5" cy="280.5" r="4.7" fill="#fff" fill-opacity="0.6" stroke="#666" stroke-width="0.5"/>
<text x="80.5" y="282.66" font-size="6" font-weight="bold" fill="#1a1a1a" text-anchor="middle">M</text>
<path d="M84.5 278L104 265" fill="none" stroke="#444" stroke-width="0.5"/>
<text x="143.2" y="310.2" font-size="7.2" font-weight="bold" fill="#1a1a1a" text-anchor="middle">C1</text>
<text x="118" y="322.9" font-size="7.2" font-weight="bold" fill="#1a1a1a" text-anchor="middle">C2</text>
<text x="285.2" y="93.7" font-size="6.3" font-weight="bold" fill="#1a1a1a" text-anchor="start">15-21</text>
<path d="M284.2 95.275H300.7L312 118" fill="none" stroke="#444" stroke-width="0.5"/>
<text x="259.2" y="125.8" font-size="6.3" font-weight="bold" fill="#1a1a1a" text-anchor="start">7</text>
<path d="M258.2 127.375H264.2L290 135" fill="none" stroke="#444" stroke-width="0.5"/>
<text x="259.2" y="141.4" font-size="6.3" font-weight="bold" fill="#1a1a1a" text-anchor="start">23</text>
<path d="M258.2 142.975H267.2L285 145" fill="none" stroke="#444" stroke-width="0.5"/>
<text x="259.2" y="155.1" font-size="6.3" font-weight="bold" fill="#1a1a1a" text-anchor="start">8</text>
<path d="M258.2 156.67499999999998H264.2L291 158" fill="none" stroke="#444" stroke-width="0.5"/>
<text x="259.2" y="169.8" font-size="6.3" font-weight="bold" fill="#1a1a1a" text-anchor="start">2</text>
<path d="M258.2 171.375H264.2L297 173" fill="none" stroke="#444" stroke-width="0.5"/>
<text x="259.2" y="184.5" font-size="6.3" font-weight="bold" fill="#1a1a1a" text-anchor="start">6</text>
<path d="M258.2 186.075H264.2L300 182" fill="none" stroke="#444" stroke-width="0.5"/>
<text x="259.2" y="198.2" font-size="6.3" font-weight="bold" fill="#1a1a1a" text-anchor="start">13</text>
<path d="M258.2 199.77499999999998H267.2L306 188" fill="none" stroke="#444" stroke-width="0.5"/>
<text x="259.2" y="212.9" font-size="6.3" font-weight="bold" fill="#1a1a1a" text-anchor="start">5</text>
<path d="M258.2 214.475H264.2L302 207" fill="none" stroke="#444" stroke-width="0.5"/>
<text x="259.2" y="227.5" font-size="6.3" font-weight="bold" fill="#1a1a1a" text-anchor="start">1</text>
<path d="M258.2 229.075H264.2L314 222" fill="none" stroke="#444" stroke-width="0.5"/>
<text x="423.5" y="113" font-size="6.3" font-weight="bold" fill="#1a1a1a" text-anchor="start">12</text>
<path d="M422.5 114.575H431.5L387.5 157" fill="none" stroke="#444" stroke-width="0.5"/>
<text x="423.5" y="198" font-size="6.3" font-weight="bold" fill="#1a1a1a" text-anchor="start">11</text>
<path d="M422.5 199.575H431.5L404.7 181.7" fill="none" stroke="#444" stroke-width="0.5"/>
<text x="423.5" y="248" font-size="6.3" font-weight="bold" fill="#1a1a1a" text-anchor="start">10</text>
<path d="M422.5 249.575H431.5L357.4 241.9" fill="none" stroke="#444" stroke-width="0.5"/>
<text x="423.5" y="285.5" font-size="6.3" font-weight="bold" fill="#1a1a1a" text-anchor="start">14</text>
<path d="M422.5 287.075H431.5L386 280.6" fill="none" stroke="#444" stroke-width="0.5"/>
<text x="346" y="316" font-size="7.2" font-weight="bold" fill="#1a1a1a" text-anchor="middle">B1</text>
<text x="425.5" y="166" font-size="7.5" text-anchor="middle" transform="rotate(-90 425.5 166)"><tspan fill="#888">∅</tspan><tspan font-weight="bold" fill="#222">E</tspan></text>
<text x="452" y="160" font-size="7.2" font-weight="bold" fill="#1a1a1a" text-anchor="middle" transform="rotate(-90 452 160)">A1</text>
<text x="503" y="272" font-size="7.2" font-weight="bold" fill="#1a1a1a" text-anchor="middle" transform="rotate(-90 503 272)">G1</text>
<text x="529" y="18.3" font-size="7.5" text-anchor="start"><tspan fill="#888">∅</tspan><tspan font-weight="bold" fill="#222">J</tspan></text>
<text x="575" y="18.3" font-size="7.5" text-anchor="start"><tspan fill="#888">∅</tspan><tspan font-weight="bold" fill="#222">J</tspan></text>
<text x="515" y="78" font-size="7.5" text-anchor="start"><tspan fill="#888">∅</tspan><tspan font-weight="bold" fill="#222">J</tspan></text>
<path d="M512.2 79.7H529.4L546 85" fill="none" stroke="#444" stroke-width="0.5"/>
<text x="589" y="78" font-size="7.5" text-anchor="start"><tspan fill="#888">∅</tspan><tspan font-weight="bold" fill="#222">J</tspan></text>
<path d="M603.5 79.7H586L568 85" fill="none" stroke="#444" stroke-width="0.5"/>
<text x="515" y="112.5" font-size="7.5" text-anchor="start"><tspan fill="#888">∅</tspan><tspan font-weight="bold" fill="#222">J</tspan></text>
<path d="M512.2 114.2H529.4L547 123" fill="none" stroke="#444" stroke-width="0.5"/>
<text x="571" y="257.5" font-size="7.5" text-anchor="start"><tspan fill="#888">∅</tspan><tspan font-weight="bold" fill="#222">J</tspan></text>
<path d="M570 259.7H584" fill="none" stroke="#444" stroke-width="0.5"/>
<text x="752.5" y="313" font-size="7.2" font-weight="bold" fill="#1a1a1a" text-anchor="middle">B2</text>
<text x="854" y="213" font-size="7.2" font-weight="bold" fill="#1a1a1a" text-anchor="middle" transform="rotate(-90 854 213)">H1</text>
<text x="873" y="191" font-size="7.2" font-weight="bold" fill="#1a1a1a" text-anchor="middle" transform="rotate(-90 873 191)">H2</text>
<text x="257" y="446" font-size="8.7" font-weight="normal" fill="#1a1a1a" text-anchor="start">10</text>
<path d="M256 448.175H267L290.3 461" fill="none" stroke="#444" stroke-width="0.5"/>
<circle cx="258.7" cy="466.4" r="6.3" fill="#fff" fill-opacity="0.6" stroke="#666" stroke-width="0.8"/>
<text x="258.7" y="469.568" font-size="8.8" font-weight="normal" fill="#1a1a1a" text-anchor="middle">L</text>
<path d="M263.2 470.8L292.7 490.5" fill="none" stroke="#444" stroke-width="0.5"/>
<text x="246.5" y="510.2" font-size="10.5" text-anchor="start"><tspan fill="#888">∅</tspan><tspan font-weight="bold" fill="#222">J</tspan></text>
<path d="M248 512H267.6L272.4 508L290.7 498.8" fill="none" stroke="#444" stroke-width="0.5"/>
<circle cx="435.8" cy="512.9" r="6.3" fill="#fff" fill-opacity="0.6" stroke="#666" stroke-width="0.8"/>
<text x="435.8" y="516.068" font-size="8.8" font-weight="normal" fill="#1a1a1a" text-anchor="middle">K</text>
<path d="M430.5 516.5L360 561" fill="none" stroke="#444" stroke-width="0.5"/>
<text x="204.6" y="603.5" font-size="8.7" font-weight="normal" fill="#1a1a1a" text-anchor="start">31</text>
<path d="M203.6 605.675H214.6L222.2 630.4" fill="none" stroke="#444" stroke-width="0.5"/>
<circle cx="257.2" cy="688.5" r="6.3" fill="#fff" fill-opacity="0.6" stroke="#666" stroke-width="0.8"/>
<text x="257.2" y="691.668" font-size="8.8" font-weight="normal" fill="#1a1a1a" text-anchor="middle">M</text>
<path d="M262 692.5L291 711" fill="none" stroke="#444" stroke-width="0.5"/>
<circle cx="435.8" cy="694" r="6.3" fill="#fff" fill-opacity="0.6" stroke="#666" stroke-width="0.8"/>
<text x="435.8" y="697.168" font-size="8.8" font-weight="normal" fill="#1a1a1a" text-anchor="middle">N</text>
<path d="M430.2 697.5L391 715" fill="none" stroke="#444" stroke-width="0.5"/>
<text x="246.5" y="736.3" font-size="10.5" text-anchor="start"><tspan fill="#888">∅</tspan><tspan font-weight="bold" fill="#222">J</tspan></text>
<path d="M248 738.5H267.6L272.4 734L290 719" fill="none" stroke="#444" stroke-width="0.5"/>
<text x="185" y="635.5" font-size="10.2" font-weight="bold" fill="#1a1a1a" text-anchor="middle" transform="rotate(-90 185 635.5)">H</text>
<text x="238" y="735.3" font-size="10.2" font-weight="bold" fill="#1a1a1a" text-anchor="middle" transform="rotate(-90 238 735.3)">G</text>
<text x="442" y="669" font-size="10.2" font-weight="bold" fill="#1a1a1a" text-anchor="middle" transform="rotate(-90 442 669)">D</text>
<text x="458.5" y="622" font-size="10.2" font-weight="bold" fill="#1a1a1a" text-anchor="middle" transform="rotate(-90 458.5 622)">A</text>
<text x="340" y="778.5" font-size="10.2" font-weight="bold" fill="#1a1a1a" text-anchor="middle">C1</text>
<text x="308" y="796" font-size="10.2" font-weight="bold" fill="#1a1a1a" text-anchor="middle">C2</text>
<text x="322" y="426.3" font-size="10.2" font-weight="bold" fill="#1a1a1a" text-anchor="middle">CH</text>
<text x="321" y="697.5" font-size="10.2" font-weight="bold" fill="#1a1a1a" text-anchor="middle">I</text>
<text x="502.7" y="427.8" font-size="9.2" fill="#1a1a1a" stroke="#1a1a1a" stroke-width="0.18">21-26,29</text>
<path d="M501.5 429.7H541.2L550.9 443.5" fill="none" stroke="#333" stroke-width="0.55"/>
<text x="592.3" y="427.8" font-size="9.2" fill="#1a1a1a" stroke="#1a1a1a" stroke-width="0.18">27</text>
<path d="M603.3 429.7H590.8L559.4 471.4" fill="none" stroke="#333" stroke-width="0.55"/>
<text x="633" y="432.2" font-size="9.2" fill="#1a1a1a" stroke="#1a1a1a" stroke-width="0.18">16</text>
<path d="M644.0 434.09999999999997H631.5L611.9 449.4" fill="none" stroke="#333" stroke-width="0.55"/>
<text x="487.5" y="445.4" font-size="9.2" fill="#1a1a1a" stroke="#1a1a1a" stroke-width="0.18">4</text>
<path d="M486.3 447.29999999999995H493.1L536.4 459.1" fill="none" stroke="#333" stroke-width="0.55"/>
<text x="487.5" y="468.8" font-size="9.2" fill="#1a1a1a" stroke="#1a1a1a" stroke-width="0.18">1</text>
<path d="M486.3 470.7H493.1L542 489.6" fill="none" stroke="#333" stroke-width="0.55"/>
<text x="484.2" y="494.7" font-size="9.2" fill="#1a1a1a" stroke="#1a1a1a" stroke-width="0.18">18</text>
<path d="M483.0 496.59999999999997H494.9L512.6 508.4" fill="none" stroke="#333" stroke-width="0.55"/>
<text x="484.2" y="549.3" font-size="9.2" fill="#1a1a1a" stroke="#1a1a1a" stroke-width="0.18">11</text>
<path d="M483.0 551.1999999999999H494.9L523.6 566.1" fill="none" stroke="#333" stroke-width="0.55"/>
<text x="484.2" y="566.1" font-size="9.2" fill="#1a1a1a" stroke="#1a1a1a" stroke-width="0.18">13</text>
<path d="M483.0 568.0H494.9L502 580" fill="none" stroke="#333" stroke-width="0.55"/>
<text x="487.5" y="612" font-size="9.2" fill="#1a1a1a" stroke="#1a1a1a" stroke-width="0.18">2</text>
<path d="M486.3 613.9H493.1L516.2 608.3" fill="none" stroke="#333" stroke-width="0.55"/>
<text x="484.2" y="627.5" font-size="9.2" fill="#1a1a1a" stroke="#1a1a1a" stroke-width="0.18">12</text>
<path d="M483.0 629.4H494.9L520.8 617.4" fill="none" stroke="#333" stroke-width="0.55"/>
<text x="487.5" y="644.5" font-size="9.2" fill="#1a1a1a" stroke="#1a1a1a" stroke-width="0.18">8</text>
<path d="M486.3 646.4H493.1L516 636" fill="none" stroke="#333" stroke-width="0.55"/>
<text x="487.5" y="668" font-size="9.2" fill="#1a1a1a" stroke="#1a1a1a" stroke-width="0.18">6</text>
<path d="M486.3 669.9H493.1L549 683" fill="none" stroke="#333" stroke-width="0.55"/>
<text x="484.2" y="689.5" font-size="9.2" fill="#1a1a1a" stroke="#1a1a1a" stroke-width="0.18">28</text>
<path d="M483.0 691.4H494.9L519 701" fill="none" stroke="#333" stroke-width="0.55"/>
<text x="484.2" y="703.5" font-size="9.2" fill="#1a1a1a" stroke="#1a1a1a" stroke-width="0.18">30</text>
<path d="M483.0 705.4H494.9L517 712" fill="none" stroke="#333" stroke-width="0.55"/>
<text x="484.2" y="719.5" font-size="9.2" fill="#1a1a1a" stroke="#1a1a1a" stroke-width="0.18">15</text>
<path d="M483.0 721.4H494.9L519 735" fill="none" stroke="#333" stroke-width="0.55"/>
<text x="487.5" y="754" font-size="9.2" fill="#1a1a1a" stroke="#1a1a1a" stroke-width="0.18">3</text>
<path d="M486.3 755.9H493.1L543 751" fill="none" stroke="#333" stroke-width="0.55"/>
<circle cx="658.75" cy="457.5" r="6.2" fill="#fff" fill-opacity="0.6" stroke="#666" stroke-width="0.8"/>
<text x="658.75" y="460.668" font-size="8.8" font-weight="normal" fill="#1a1a1a" text-anchor="middle">P</text>
<path d="M654.2 461.8L629 482" fill="none" stroke="#444" stroke-width="0.5"/>
<text x="695.5" y="471.25" font-size="9.2" fill="#1a1a1a" stroke="#1a1a1a" stroke-width="0.18">19</text>
<path d="M706.5 473.15H694.0L671.25 494.7" fill="none" stroke="#333" stroke-width="0.55"/>
<text x="698" y="492.3" font-size="9.2" fill="#1a1a1a" stroke="#1a1a1a" stroke-width="0.18">9</text>
<path d="M703.9 494.2H696.5L686.2 523.3" fill="none" stroke="#333" stroke-width="0.55"/>
<text x="695.5" y="611.4" font-size="9.2" fill="#1a1a1a" stroke="#1a1a1a" stroke-width="0.18">20</text>
<path d="M706.5 613.3H694.0L655.6 601.7" fill="none" stroke="#333" stroke-width="0.55"/>
<text x="698" y="640.7" font-size="9.2" fill="#1a1a1a" stroke="#1a1a1a" stroke-width="0.18">7</text>
<path d="M703.9 642.6H696.5L609.7 599.6" fill="none" stroke="#333" stroke-width="0.55"/>
<text x="698" y="674.8" font-size="9.2" fill="#1a1a1a" stroke="#1a1a1a" stroke-width="0.18">5</text>
<path d="M703.9 676.6999999999999H696.5L640.9 655.6" fill="none" stroke="#333" stroke-width="0.55"/>
<text x="695.5" y="705" font-size="9.2" fill="#1a1a1a" stroke="#1a1a1a" stroke-width="0.18">17</text>
<path d="M706.5 706.9H694.0L591.3 670.3" fill="none" stroke="#333" stroke-width="0.55"/>
<text x="695.5" y="739.1" font-size="9.2" fill="#1a1a1a" stroke="#1a1a1a" stroke-width="0.18">14</text>
<path d="M706.5 741.0H694.0L616 702" fill="none" stroke="#333" stroke-width="0.55"/>
<circle cx="536.4" cy="459.1" r="0.9" fill="#111"/>
<circle cx="542" cy="489.6" r="0.9" fill="#111"/>
<circle cx="559.4" cy="471.4" r="0.9" fill="#111"/>
<circle cx="523.6" cy="566.1" r="0.9" fill="#111"/>
<circle cx="549" cy="683" r="0.9" fill="#111"/>
<circle cx="543" cy="751" r="0.9" fill="#111"/>
<circle cx="640.9" cy="655.6" r="0.9" fill="#111"/>
<circle cx="591.3" cy="670.3" r="0.9" fill="#111"/>
<circle cx="616" cy="702" r="0.9" fill="#111"/>
<circle cx="609.7" cy="599.6" r="0.9" fill="#111"/>
<circle cx="686.2" cy="523.3" r="0.9" fill="#111"/>
<text x="704.5" y="567.3" font-size="10" text-anchor="middle" transform="rotate(-90 704.5 567.3)"><tspan fill="#888">∅</tspan><tspan font-weight="bold" fill="#222">E</tspan></text>
<text x="593" y="778.5" font-size="9.8" font-weight="bold" fill="#1a1a1a" text-anchor="middle">B</text>
<!--/LABELS-->
<text class="cap" x="57.4" y="867">Cazanele D20P, D30P, D40P, D50P</text>
</svg>
</body></html>
